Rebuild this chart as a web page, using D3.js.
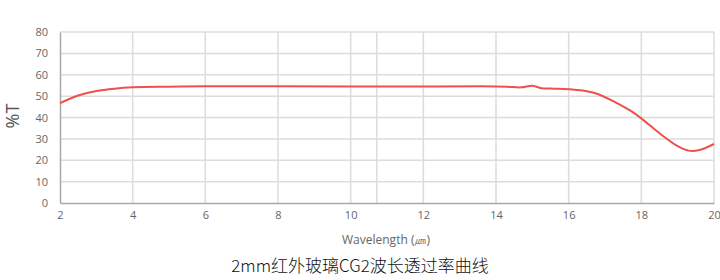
<!DOCTYPE html>
<html><head><meta charset="utf-8">
<script src="https://cdn.jsdelivr.net/npm/d3@7"></script>
<style>html,body{margin:0;padding:0;background:#fff;}svg{display:block;}</style>
</head><body>
<script>
const wavelength = [2, 2.5, 3, 3.5, 4, 5, 6, 8, 10, 12, 13.6, 14.3, 14.7, 15.0, 15.25, 15.6, 16.1, 16.5, 16.8, 17.3, 17.7, 18.0, 18.5, 19.0, 19.3, 19.6, 20];
const transmission = [46.7, 50.3, 52.4, 53.5, 54.1, 54.4, 54.6, 54.6, 54.5, 54.5, 54.6, 54.4, 54.1, 54.9, 53.7, 53.5, 53.1, 52.3, 51.0, 47.0, 43.2, 39.6, 32.6, 26.6, 24.5, 24.8, 27.6];
const xTicks = [2, 4, 6, 8, 10, 12, 14, 16, 18, 20];
const xExtraGrid = [10.72];
const yTicks = [0, 10, 20, 30, 40, 50, 60, 70, 80];
const yLabel = "%T";
const xLabel = "Wavelength (\u339B)";
const title = "2mm红外玻璃CG2波长透过率曲线";

const W = 720, H = 280;
const m = {left: 60, right: 6, top: 32, bottom: 77};
const svg = d3.select("body").append("svg").attr("width", W).attr("height", H);
const x = d3.scaleLinear().domain([2, 20]).range([m.left, W - m.right]);
const y = d3.scaleLinear().domain([0, 80]).range([H - m.bottom, m.top]);

const grid = svg.append("g");
grid.selectAll(".hg").data(yTicks.filter(d => d > 0)).join("line")
  .attr("x1", m.left).attr("x2", W - m.right)
  .attr("y1", d => y(d)).attr("y2", d => y(d))
  .attr("stroke", "#dcdcdc").attr("stroke-width", 1.5);
grid.selectAll(".vg").data(xTicks.filter(d => d > 2).concat(xExtraGrid)).join("line")
  .attr("x1", d => x(d)).attr("x2", d => x(d))
  .attr("y1", m.top).attr("y2", H - m.bottom)
  .attr("stroke", "#dcdcdc").attr("stroke-width", 1.5);

const font = "'Open Sans', 'Noto Sans', sans-serif";
const xAxis = svg.append("g").attr("transform", `translate(0,${H - m.bottom})`)
  .call(d3.axisBottom(x).tickValues(xTicks).tickSize(0).tickPadding(8).tickFormat(d3.format("d")));
xAxis.select(".domain").attr("stroke", "#a8a8a8").attr("stroke-width", 1.5);
xAxis.selectAll("text").attr("fill", "#666").style("font-family", font).style("font-size", "11px");

const yAxis = svg.append("g").attr("transform", `translate(${m.left},0)`)
  .call(d3.axisLeft(y).tickValues(yTicks).tickSize(0).tickPadding(12).tickFormat(d3.format("d")));
yAxis.select(".domain").attr("stroke", "#a8a8a8").attr("stroke-width", 1.5);
yAxis.selectAll("text").attr("fill", "#666").style("font-family", font).style("font-size", "11px");

const line = d3.line().x((d, i) => x(wavelength[i])).y(d => y(d)).curve(d3.curveCatmullRom.alpha(0.5));
svg.append("path").datum(transmission).attr("d", line)
  .attr("fill", "none").attr("stroke", "#f0504c").attr("stroke-width", 2);

svg.append("text").attr("transform", "translate(19,116) rotate(-90)")
  .attr("text-anchor", "middle").attr("fill", "#555")
  .style("font-family", font).style("font-size", "18px").text(yLabel);

svg.append("text").attr("x", 386).attr("y", 244).attr("text-anchor", "middle")
  .attr("fill", "#666").style("font-family", font).style("font-size", "12px").text(xLabel);

svg.append("text").attr("x", 360).attr("y", 272).attr("text-anchor", "middle")
  .attr("fill", "#111").style("font-family", "'Noto Sans CJK SC', sans-serif").style("font-size", "17px").style("font-weight", 300).text(title);
</script>
</body></html>
